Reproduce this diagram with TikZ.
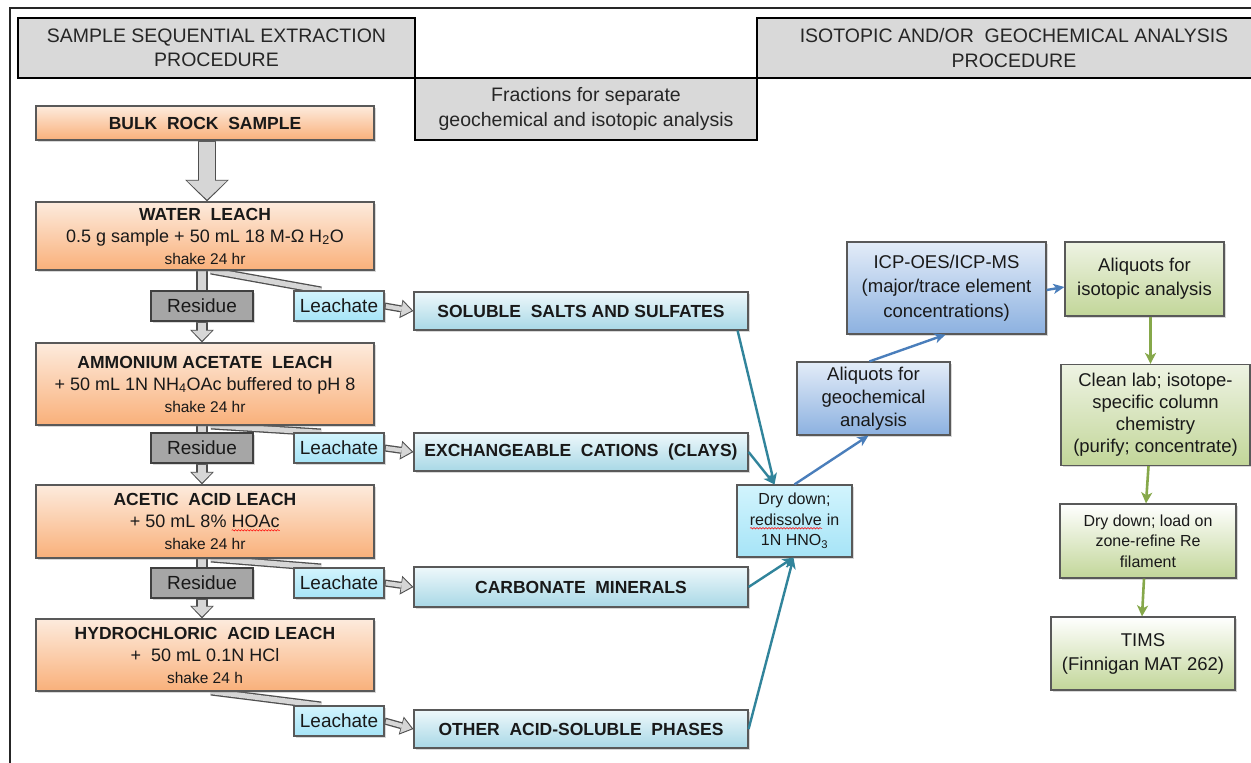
\documentclass[tikz,border=0pt]{standalone}
\usepackage{fontspec}
\setmainfont{Liberation Sans}
\usetikzlibrary{arrows.meta,calc,backgrounds,shadows,decorations.pathmorphing}

\definecolor{hdrgray}{HTML}{D9D9D9}
\definecolor{orTop}{HTML}{FDEBDD}
\definecolor{orBot}{HTML}{F9B07A}
\definecolor{bxTop}{HTML}{EEF8FB}
\definecolor{bxBot}{HTML}{A8D8E6}
\definecolor{leaTop}{HTML}{D2F4FD}
\definecolor{leaBot}{HTML}{A6E4F7}
\definecolor{blTop}{HTML}{E3ECF8}
\definecolor{blBot}{HTML}{8CB1E0}
\definecolor{grTop}{HTML}{EEF3E3}
\definecolor{grBot}{HTML}{C2D699}
\definecolor{resgray}{HTML}{A6A6A6}
\definecolor{edge}{HTML}{595959}
\definecolor{tealc}{HTML}{31849B}
\definecolor{bluec}{HTML}{4A7EBB}
\definecolor{greenc}{HTML}{86A84A}
\definecolor{shaftfill}{HTML}{D6D6D6}
\definecolor{shaftedge}{HTML}{4F4F4F}

\newsavebox\rwbox
\newcommand\redwave[1]{\sbox\rwbox{#1}\rlap{\usebox\rwbox}\tikz[baseline=0pt]{\draw[red, line width=0.5pt, decorate, decoration={snake, amplitude=0.7pt, segment length=3pt}] (0pt,-2.8pt) -- (\the\wd\rwbox,-2.8pt);}}
\newcommand\ttlf{\fontsize{17.5}{21}\selectfont\bfseries}
\newcommand\subf{\fontsize{18}{22}\selectfont}
\newcommand\shkf{\fontsize{15.5}{19}\selectfont}

% block arrow: from, to, shaft width, head width, head length
\newcommand\blkarrow[5]{%
  \pgfmathsetmacro\blkOW{#3+2.6}%
  \pgfmathsetmacro\blkOH{#4+3.8}%
  \pgfmathsetmacro\blkOL{#5+2.6}%
  \draw[draw=shaftedge, line width=\blkOW pt, -{Triangle[length=\blkOL pt, width=\blkOH pt, line width=0pt]}] #1 -- #2;
  \draw[draw=shaftfill, line width=#3pt, shorten >=1.8pt, shorten <=1.3pt, -{Triangle[length=#5pt, width=#4pt, line width=0pt]}] #1 -- #2;
}

\tikzset{
  box/.style={draw=edge, line width=1.2pt, inner sep=0pt, align=center, text=black!90,
    drop shadow={shadow xshift=1.5pt, shadow yshift=-1.5pt, opacity=0.3}},
  hdr/.style={draw=black, line width=2.8pt, fill=hdrgray, inner sep=0pt, align=center,
    font=\fontsize{19.5}{24.5}\selectfont, text=black!85},
  orbox/.style={box, top color=orTop, bottom color=orBot, minimum width=338pt, font=\subf},
  resbox/.style={box, draw=black!75, fill=resgray, minimum width=102pt, minimum height=30pt, font=\fontsize{19}{22}\selectfont},
  leabox/.style={box, top color=leaTop, bottom color=leaBot, minimum width=90pt, minimum height=30pt, font=\fontsize{19}{22}\selectfont},
  frbox/.style={box, top color=bxTop, bottom color=bxBot, minimum width=334pt, font=\fontsize{17.5}{21}\selectfont\bfseries},
  blbox/.style={box, top color=blTop, bottom color=blBot, font=\fontsize{18.5}{24}\selectfont},
  grbox/.style={box, top color=grTop, bottom color=grBot, font=\fontsize{18.5}{24}\selectfont},
  wgbox/.style={box, top color=white, bottom color=grBot, font=\fontsize{18.5}{24}\selectfont},
  sho/.style={draw=shaftedge, line width=#1},
  shi/.style={draw=shaftfill, line width=#1},
  tarr/.style={draw=tealc, line width=2.4pt, -{Stealth[length=11pt, width=10pt, inset=3pt]}},
  barr/.style={draw=bluec, line width=2.4pt, -{Stealth[length=11pt, width=10pt, inset=3pt]}},
  garr/.style={draw=greenc, line width=2.6pt, -{Stealth[length=11pt, width=11pt, inset=3pt]}},
}

\begin{document}
\begin{tikzpicture}[x=1pt, y=-1pt]
\useasboundingbox (0,0) rectangle (1251,763);
\begin{pgfonlayer}{background}
  \fill[white] (0,0) rectangle (1251,763);
\end{pgfonlayer}
\clip (0,0) rectangle (1251,763);
\draw[line width=1.3pt, black!85] (10,763) -- (10,8) -- (1251,8);

% headers
\node[hdr, minimum width=397pt, minimum height=60pt] (hL) at (216.5,48) {SAMPLE SEQUENTIAL EXTRACTION\\PROCEDURE};
\node[hdr, minimum width=342pt, minimum height=62pt] (hM) at (586,109) {Fractions for separate\\geochemical and isotopic analysis};
\node[hdr, minimum width=514pt, minimum height=60pt] (hR) at (1014,48) {ISOTOPIC AND/OR\ \ GEOCHEMICAL ANALYSIS\\PROCEDURE};

% extraction column
\node[orbox, minimum height=34pt, font=\ttlf] (bulk) at (205,123) {BULK\ \ ROCK\ \ SAMPLE};
\node[orbox, minimum height=68pt] (water) at (205,236) {{\ttlf WATER\ \ LEACH}\\0.5 g sample + 50 mL 18 M-Ω H\textsubscript{2}O\\{\shkf shake 24 hr}};
\node[resbox] (r1) at (202,306) {Residue};
\node[leabox] (l1) at (339,306) {Leachate};
\node[frbox, minimum height=38pt] (sol) at (581,311) {SOLUBLE\ \ SALTS AND SULFATES};

\node[orbox, minimum height=82pt] (amm) at (205,384) {{\ttlf AMMONIUM ACETATE\ \ LEACH}\\+ 50 mL 1N NH\textsubscript{4}OAc buffered to pH 8\\{\shkf shake 24 hr}};
\node[resbox] (r2) at (202,448) {Residue};
\node[leabox] (l2) at (339,448) {Leachate};
\node[frbox, minimum height=38pt] (exc) at (581,452) {EXCHANGEABLE\ \ CATIONS\ \ (CLAYS)};

\node[orbox, minimum height=73pt] (ace) at (205,521.5) {{\ttlf ACETIC\ \ ACID LEACH}\\+ 50 mL 8\% \redwave{HOAc}\\{\shkf shake 24 hr}};
\node[resbox] (r3) at (202,583) {Residue};
\node[leabox] (l3) at (339,583) {Leachate};
\node[frbox, minimum height=40pt] (car) at (581,587) {CARBONATE\ \ MINERALS};

\node[orbox, minimum height=72pt] (hyd) at (205,655) {{\ttlf HYDROCHLORIC\ \ ACID LEACH}\\+\ \ 50 mL 0.1N HCl\\{\shkf shake 24 h}};
\node[leabox] (l4) at (339,721) {Leachate};
\node[frbox, minimum height=38pt] (oth) at (581,729) {OTHER\ \ ACID-SOLUBLE\ \ PHASES};

% analysis side
\node[box, top color=leaTop, bottom color=leaBot, minimum width=115pt, minimum height=72pt, font=\fontsize{16}{20.5}\selectfont] (dry) at (794.5,521) {Dry down;\\\redwave{redissolve} in\\1N HNO\textsubscript{3}};
\node[blbox, minimum width=153pt, minimum height=73pt, font=\fontsize{18.5}{23}\selectfont] (aqg) at (873.5,398.5) {Aliquots for\\geochemical\\analysis};
\node[blbox, minimum width=199pt, minimum height=92pt, font=\fontsize{18.5}{24.5}\selectfont] (icp) at (946.5,288) {ICP-OES/ICP-MS\\(major/trace element\\concentrations)};
\node[grbox, minimum width=159pt, minimum height=74pt] (aqi) at (1144.5,279) {Aliquots for\\isotopic analysis};
\node[grbox, minimum width=189pt, minimum height=101pt, font=\fontsize{18.5}{22}\selectfont] (cln) at (1155.5,415) {Clean lab; isotope-\\specific column\\chemistry\\(purify; concentrate)};
\node[wgbox, minimum width=176pt, minimum height=74pt, font=\fontsize{16}{20.5}\selectfont] (dld) at (1148,541) {Dry down; load on\\zone-refine Re\\filament};
\node[wgbox, minimum width=184pt, minimum height=73pt] (tims) at (1143,653.5) {TIMS\\(Finnigan MAT 262)};

% grey block connectors
\begin{pgfonlayer}{background}
  \blkarrow{($(bulk.south)+(2,0)$)}{($(water.north)+(2,0)$)}{15.6}{40}{19}
  % water leach
  \draw[sho=7.8] ($(water.south)+(6,0)$) -- ($(l1.north)+(-18,0)$);
  \draw[sho=11.2] (r1.north |- water.south) -- (r1.north);
  \draw[shi=5.2] ($(water.south)+(6,0)$) -- ($(l1.north)+(-18,0)$);
  \draw[shi=8.6] (r1.north |- water.south) -- (r1.north);
  \blkarrow{(r1.south)}{(amm.north -| r1.south)}{8.6}{20}{10}
  \blkarrow{(l1.east)}{(sol.west)}{4.4}{15}{10}
  % ammonium acetate
  \draw[sho=7.8] ($(amm.south)+(6,0)$) -- ($(l2.north)+(-18,0)$);
  \draw[sho=11.2] (r2.north |- amm.south) -- (r2.north);
  \draw[shi=5.2] ($(amm.south)+(6,0)$) -- ($(l2.north)+(-18,0)$);
  \draw[shi=8.6] (r2.north |- amm.south) -- (r2.north);
  \blkarrow{(r2.south)}{(ace.north -| r2.south)}{8.6}{20}{10}
  \blkarrow{(l2.east)}{(exc.west)}{4.4}{15}{10}
  % acetic acid
  \draw[sho=7.8] ($(ace.south)+(6,0)$) -- ($(l3.north)+(-18,0)$);
  \draw[sho=11.2] (r3.north |- ace.south) -- (r3.north);
  \draw[shi=5.2] ($(ace.south)+(6,0)$) -- ($(l3.north)+(-18,0)$);
  \draw[shi=8.6] (r3.north |- ace.south) -- (r3.north);
  \blkarrow{(r3.south)}{(hyd.north -| r3.south)}{8.6}{20}{10}
  \blkarrow{(l3.east)}{(car.west)}{4.4}{15}{10}
  % hydrochloric acid
  \draw[sho=7.8] ($(hyd.south)+(6,0)$) -- ($(l4.north)+(-18,0)$);
  \draw[shi=5.2] ($(hyd.south)+(6,0)$) -- ($(l4.north)+(-18,0)$);
  \blkarrow{(l4.east)}{(oth.west)}{4.4}{15}{10}
\end{pgfonlayer}

% coloured connectors
\draw[tarr] ($(sol.south east)+(-11,0)$) -- ($(dry.north)+(-20,0)$);
\draw[tarr] (exc.east) -- ($(dry.north)+(-20,0)$);
\draw[tarr] (car.east) -- ($(dry.south)+(-1,0)$);
\draw[tarr] (oth.east) -- ($(dry.south)+(-1,0)$);

\draw[barr] (dry.north) -- ($(aqg.south)+(-5,0)$);
\draw[barr] ($(aqg.north)+(-4,0)$) -- ($(icp.south)+(-1,0)$);
\draw[barr] ($(icp.east)+(0,2)$) -- ($(aqi.west)+(0,8)$);

\draw[garr] ($(aqi.south)+(6,0)$) -- ($(cln.north)+(-5,0)$);
\draw[garr] ($(cln.south)+(-7,0)$) -- ($(dld.north)+(-2,0)$);
\draw[garr] ($(dld.south)+(-4,0)$) -- ($(tims.north)+(-1,0)$);
\end{tikzpicture}
\end{document}
